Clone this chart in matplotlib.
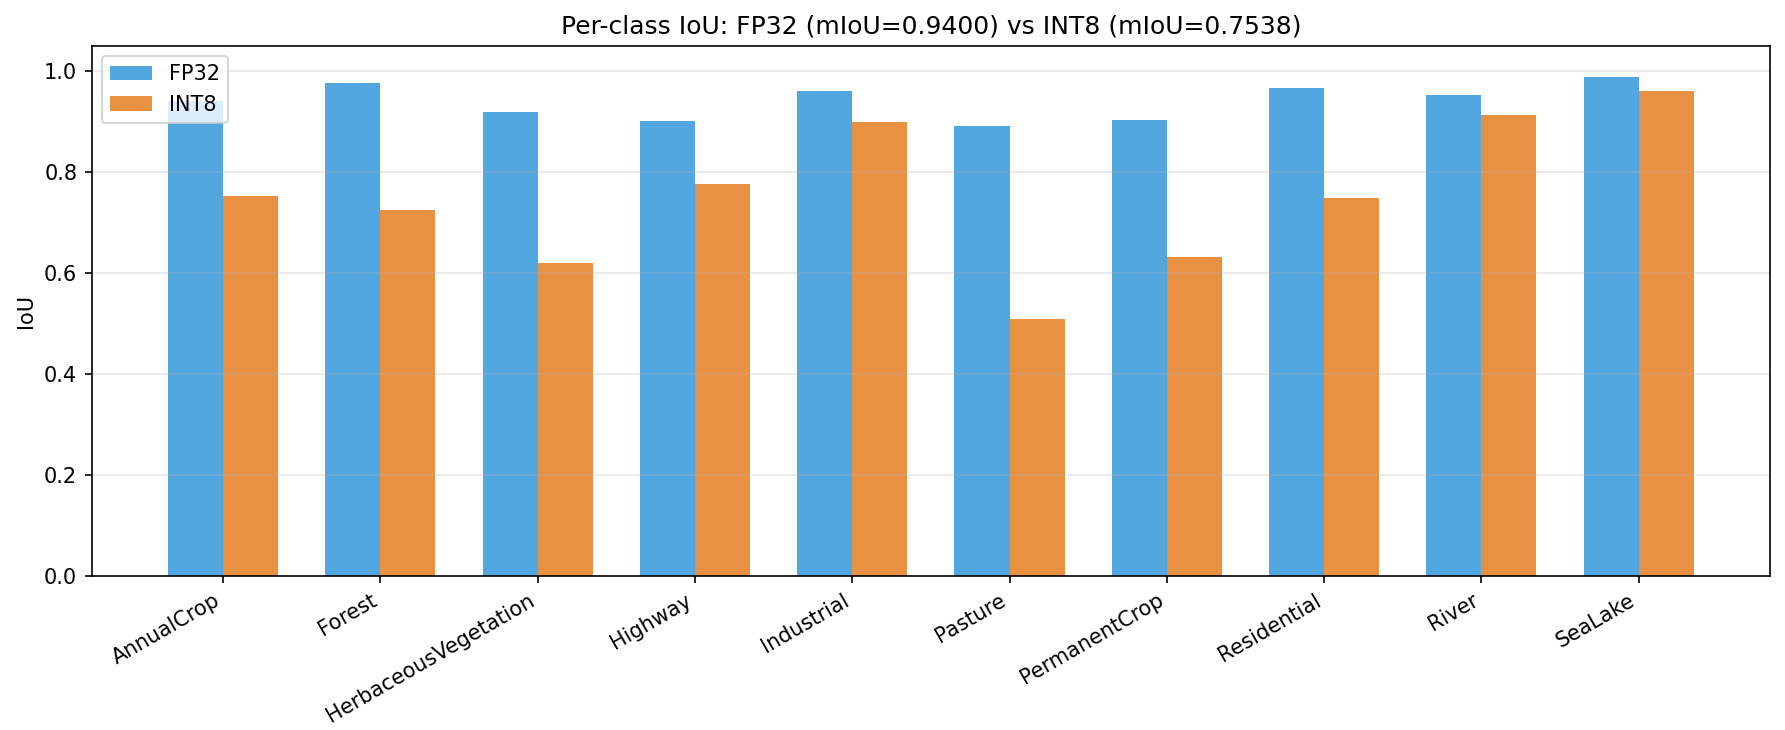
import matplotlib
matplotlib.use('Agg')
import matplotlib.pyplot as plt
import numpy as np

# IoU по классам
classes = ['AnnualCrop', 'Forest', 'HerbaceousVegetation', 'Highway', 'Industrial',
           'Pasture', 'PermanentCrop', 'Residential', 'River', 'SeaLake']
fp32_iou = [0.940, 0.976, 0.918, 0.901, 0.960, 0.891, 0.903, 0.966, 0.952, 0.988]
int8_iou = [0.753, 0.725, 0.620, 0.776, 0.899, 0.509, 0.632, 0.749, 0.913, 0.960]
fp32_miou = 0.9400
int8_miou = 0.7538

x = np.arange(len(classes))
width = 0.35

fig, ax = plt.subplots(figsize=(11.9, 4.867), dpi=150)
fig.subplots_adjust(left=0.0514, right=0.9916, top=0.9374, bottom=0.2114)

ax.bar(x - width / 2, fp32_iou, width, label='FP32', color='#3498db', alpha=0.85)
ax.bar(x + width / 2, int8_iou, width, label='INT8', color='#e67e22', alpha=0.85)

ax.set_xticks(x)
ax.set_xticklabels(classes, rotation=30, ha='right')
ax.set_ylabel('IoU')
ax.set_ylim(0, 1.05)
ax.set_title(f'Per-class IoU: FP32 (mIoU={fp32_miou:.4f}) vs INT8 (mIoU={int8_miou:.4f})')
ax.legend(loc='upper left')
ax.grid(axis='y', alpha=0.3)

fig.savefig('out.png', dpi=150)
